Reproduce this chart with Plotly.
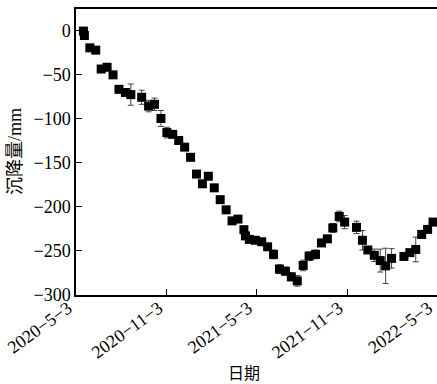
import plotly.graph_objects as go

dates = ["2020-05-18", "2020-05-20", "2020-05-31", "2020-06-12", "2020-06-23", "2020-07-05",
         "2020-07-17", "2020-07-29", "2020-08-11", "2020-08-22", "2020-09-13", "2020-09-27",
         "2020-10-09", "2020-10-22", "2020-11-03", "2020-11-15", "2020-11-27", "2020-12-09",
         "2020-12-21", "2021-01-02", "2021-01-14", "2021-01-26", "2021-02-07", "2021-02-19",
         "2021-03-03", "2021-03-15", "2021-03-27", "2021-04-08", "2021-04-11", "2021-04-19",
         "2021-05-01", "2021-05-14", "2021-05-26", "2021-06-07", "2021-06-19", "2021-07-01",
         "2021-07-13", "2021-07-25", "2021-08-06", "2021-08-18", "2021-08-31", "2021-09-12",
         "2021-09-24", "2021-10-05", "2021-10-18", "2021-10-29", "2021-11-22", "2021-12-04",
         "2021-12-15", "2021-12-28", "2022-01-09", "2022-01-20", "2022-02-01", "2022-02-26",
         "2022-03-10", "2022-03-22", "2022-04-03", "2022-04-15", "2022-04-26"]

subsidence = [-1, -6, -20, -22.6, -44, -42, -50.6, -67, -70.6, -73, -76, -86, -84, -100,
              -116, -118, -125, -132.5, -144, -163, -174, -165.5, -178.6, -192, -203.5,
              -216, -214, -226, -233, -237, -238, -239.7, -245.4, -254, -270.7, -273,
              -279.4, -284, -266.5, -256, -254, -241, -236.4, -224, -211, -217.4, -223.4,
              -238, -249, -255, -261, -267, -258.5, -256.3, -252, -248.4, -231.4, -225.7,
              -217.4]

errors = [2, 2, 2, 2, 2, 2, 2, 2, 2, 12, 8, 6.5, 7, 9, 6, 3, 2, 2, 2, 2, 2, 2, 2, 4, 2,
          2, 2, 3, 3, 3, 2, 2, 3, 5, 5, 4.5, 4.5, 6, 6, 5, 5, 4, 4, 5, 6, 7.5, 7, 11, 3,
          7, 13, 20, 11, 3, 3, 14, 3, 2, 2]

x_tickvals = ["2020-05-03", "2020-11-03", "2021-05-03", "2021-11-03", "2022-05-03"]
x_ticktext = ["2020\u22125\u22123", "2020\u221211\u22123", "2021\u22125\u22123",
              "2021\u221211\u22123", "2022\u22125\u22123"]
y_tickvals = [0, -50, -100, -150, -200, -250, -300]
y_ticktext = ["0", "\u221250", "\u2212100", "\u2212150", "\u2212200", "\u2212250", "\u2212300"]

FONT = "Liberation Serif, Noto Sans CJK SC, serif"

fig = go.Figure()
fig.add_trace(go.Scatter(
    x=dates, y=subsidence, mode="markers",
    marker=dict(symbol="square", size=9, color="black"),
    error_y=dict(type="data", array=errors, visible=True, color="#444444",
                 thickness=1, width=3),
    showlegend=False,
))

fig.update_layout(
    width=437, height=384,
    margin=dict(l=76, r=0, t=9, b=89),
    plot_bgcolor="white", paper_bgcolor="white",
    font=dict(family=FONT, size=18, color="black"),
    xaxis=dict(
        range=["2020-05-03", "2022-05-04"],
        tickvals=x_tickvals, ticktext=x_ticktext, tickangle=-36,
        ticks="inside", ticklen=6, tickwidth=1.2, tickcolor="black",
        showline=True, linecolor="black", linewidth=1.5, mirror=True,
        showgrid=False, zeroline=False, automargin=False,
        tickfont=dict(family=FONT, size=18, color="black"),
        ticklabeloverflow="allow",
        ticklabelshift=-8, ticklabelstandoff=-6,
    ),
    yaxis=dict(
        range=[-300, 24],
        tickvals=y_tickvals, ticktext=y_ticktext,
        ticks="inside", ticklen=6, tickwidth=1.2, tickcolor="black",
        showline=True, linecolor="black", linewidth=1.5, mirror=True,
        showgrid=False, zeroline=False, automargin=False,
        tickfont=dict(family=FONT, size=18, color="black"),
    ),
    annotations=[
        dict(text="沉降量/mm", xref="paper", yref="paper", x=0, y=0.5,
             xanchor="center", yanchor="middle", xshift=-61, textangle=-90,
             showarrow=False, font=dict(family=FONT, size=18, color="black")),
        dict(text="日期", xref="paper", yref="paper", x=(243.5 - 76) / 361, y=0,
             xanchor="center", yanchor="middle", yshift=-77,
             showarrow=False, font=dict(family="Noto Sans CJK SC", size=16, color="black")),
    ],
)

fig.write_html("out.html")
